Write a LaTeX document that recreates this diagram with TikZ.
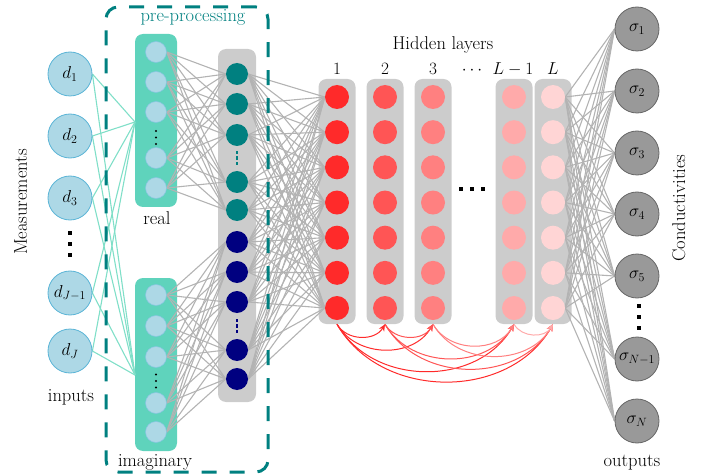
\documentclass[tikz,border=0pt]{standalone}
\usetikzlibrary{arrows.meta}
\definecolor{boxteal}{HTML}{5FD3BC}
\definecolor{lineteal}{HTML}{80DFC8}
\definecolor{dteal}{HTML}{008080}
\definecolor{dnavy}{HTML}{000080}
\definecolor{inblue}{HTML}{ADD8E6}
\definecolor{inedge}{HTML}{5AB4D6}
\definecolor{inedgeb}{HTML}{86C5E2}
\definecolor{boxgray}{HTML}{CCCCCC}
\definecolor{edgegray}{HTML}{B3B3B3}
\definecolor{sfill}{HTML}{999999}
\definecolor{sedge}{HTML}{666666}
\definecolor{hA}{HTML}{FF2A2A}
\definecolor{hB}{HTML}{FF5555}
\definecolor{hC}{HTML}{FF8080}
\definecolor{hD}{HTML}{FFAAAA}
\definecolor{hE}{HTML}{FFD5D5}
\pgfdeclarelayer{bg}
\pgfdeclarelayer{edges}
\pgfdeclarelayer{fg}
\pgfsetlayers{bg,edges,main,fg}
\begin{document}
\begin{tikzpicture}[x=1pt,y=-1pt,font=\fontsize{18.5}{22}\selectfont,
  dnode/.style={circle,draw=inedge,fill=inblue,line width=0.8pt,minimum size=44pt,inner sep=0pt,font=\fontsize{17}{20}\selectfont},
  innode/.style={circle,draw=inedgeb,fill=inblue,line width=0.5pt,minimum size=21pt,inner sep=0pt},
  colnode/.style={circle,minimum size=22pt,inner sep=0pt},
  hnode/.style={circle,minimum size=24pt,inner sep=0pt},
  snode/.style={circle,draw=sedge,fill=sfill,line width=0.8pt,minimum size=44pt,inner sep=0pt,font=\fontsize{17}{20}\selectfont},
  rbox/.style={rounded corners=8pt,inner sep=0pt},
  tedge/.style={draw=lineteal,line width=1.1pt},
  gedge/.style={draw=edgegray,line width=1.1pt},
  skiparrow/.style={-{Stealth[length=7pt,width=6pt]},line width=1pt,looseness=1.05,out=-60,in=-120},
  lbl/.style={inner sep=0pt},
  bigdot/.style={rectangle,fill=black,minimum size=4pt,inner sep=0pt},
  smalldot/.style={circle,fill=black,minimum size=2.2pt,inner sep=0pt},
  coldot/.style={rectangle,minimum width=2.2pt,minimum height=3.6pt,inner sep=0pt}]
\useasboundingbox (0,0) rectangle (710,476);

% column boxes
\begin{pgfonlayer}{bg}
\node[rbox,fill=boxteal,minimum width=42pt,minimum height=173pt] (realbox) at (156,120.5) {};
\node[rbox,fill=boxteal,minimum width=42pt,minimum height=173pt] (imagbox) at (156,364.5) {};
\node[rbox,fill=boxgray,minimum width=38pt,minimum height=353pt] (colbox) at (237,225.5) {};
\foreach \i/\x in {1/337,2/385,3/433,4/514,5/553}
  \node[rbox,fill=boxgray,minimum width=37pt,minimum height=245pt] (hb\i) at (\x,201.5) {};
\end{pgfonlayer}

% input nodes
\foreach \i/\y/\t in {1/74/{$d_1$},2/136/{$d_2$},3/198/{$d_3$},4/293/{$d_{J-1}$},5/351/{$d_J$}}
  \node[dnode] (d\i) at (70,\y) {\t};
\foreach \k in {0,1,2}
  \node[bigdot] (ddot\k) at (70,{233+11*\k}) {};

% pre-processing inner nodes
\foreach \i/\y in {1/52,2/82,3/112,4/158,5/188}
  \node[innode] (r\i) at (156,\y) {};
\foreach \i/\y in {1/295,2/326,3/357,4/403,5/432}
  \node[innode] (m\i) at (156,\y) {};
\foreach \k in {0,1,2} {
  \node[smalldot] (rdot\k) at (156,{131+6.5*\k}) {};
  \node[smalldot] (mdot\k) at (156,{374.5+6.5*\k}) {};
}
\coordinate (rin) at (135,122);
\coordinate (iin) at (135,375);

\foreach \i/\y in {1/74,2/104,3/135,4/182,5/210}
  \node[colnode,fill=dteal] (t\i) at (237,\y) {};
\foreach \i/\y in {1/242,2/272,3/302,4/350,5/379}
  \node[colnode,fill=dnavy] (n\i) at (237,\y) {};
\foreach \k in {0,1,2} {
  \node[coldot,fill=dteal] (tdot\k) at (237,{152.5+5.5*\k}) {};
  \node[coldot,fill=dnavy] (ndot\k) at (237,{320.5+5.5*\k}) {};
}

% hidden layers
\foreach \l/\x/\c in {1/337/hA,2/385/hB,3/433/hC,4/514/hD,5/553/hE}
  \foreach \k in {0,...,6}
    \node[hnode,fill=\c] (h\l-\k) at (\x,{97+35.17*\k}) {};
\foreach \k in {0,1,2}
  \node[bigdot] (hdot\k) at ({461+11*\k},189) {};

% outputs
\foreach \i/\y/\t in {1/29/{$\sigma_1$},2/91/{$\sigma_2$},3/153/{$\sigma_3$},4/214/{$\sigma_4$},5/276/{$\sigma_5$},6/359/{$\sigma_{N-1}$},7/421/{$\sigma_N$}}
  \node[snode] (s\i) at (637,\y) {\t};
\foreach \k in {0,1,2}
  \node[bigdot] (sdot\k) at (639,{306+11*\k}) {};

% edges
\begin{pgfonlayer}{edges}
\foreach \i in {1,...,5} {
  \draw[tedge] (d\i.east) -- (rin);
  \draw[tedge] (d\i.east) -- (iin);
}
\foreach \i in {1,...,5}
  \foreach \j in {1,...,5} {
    \draw[gedge] (r\i.east) -- (t\j.west);
    \draw[gedge] (m\i.east) -- (n\j.west);
  }
\foreach \a in {t1,t2,t3,t4,t5,n1,n2,n3,n4,n5}
  \foreach \k in {0,...,6}
    \draw[gedge] (\a.east) -- (h1-\k.west);
\foreach \k in {0,...,6}
  \foreach \s in {1,...,7}
    \draw[gedge] (h5-\k.east) -- (s\s.west);
\end{pgfonlayer}

% skip connections
\foreach \a/\b/\c in {1/2/hA,1/3/hA,1/4/hA,1/5/hA,2/3/hB,2/4/hB,2/5/hB,3/4/hC,3/5/hC,4/5/hD}
  \draw[skiparrow,draw=\c] (hb\a.south) to (hb\b.south);

% labels
\node[lbl,anchor=base] (hidden) at (443,50) {Hidden layers};
\foreach \x/\t in {337/{$1$},385/{$2$},433/{$3$},472/{$\cdots$},513/{$L-1$},553/{$L$}}
  \node[lbl,anchor=base,font=\fontsize{17}{20}\selectfont] at (\x,75) {\t};
\node[lbl,anchor=base,rotate=90] (meas) at (27,202) {Measurements};
\node[lbl,anchor=base,rotate=90] (cond) at (685,208) {Conductivities};
\node[lbl,anchor=base] (inputs) at (71,401) {inputs};
\node[lbl,anchor=base] (outputs) at (632,466) {outputs};
\node[lbl,anchor=base] (real) at (157,224) {real};
\node[lbl,anchor=base] (imag) at (155,466) {imaginary};
\node[lbl,anchor=base,text=dteal] (pp) at (193,22) {pre-processing};

\begin{pgfonlayer}{fg}
\node[draw=dteal,line width=3pt,dash pattern=on 15pt off 13pt,rounded corners=12pt,
      minimum width=162pt,minimum height=465pt,inner sep=0pt] (ppbox) at (187,239.5) {};
\end{pgfonlayer}
\end{tikzpicture}
\end{document}
